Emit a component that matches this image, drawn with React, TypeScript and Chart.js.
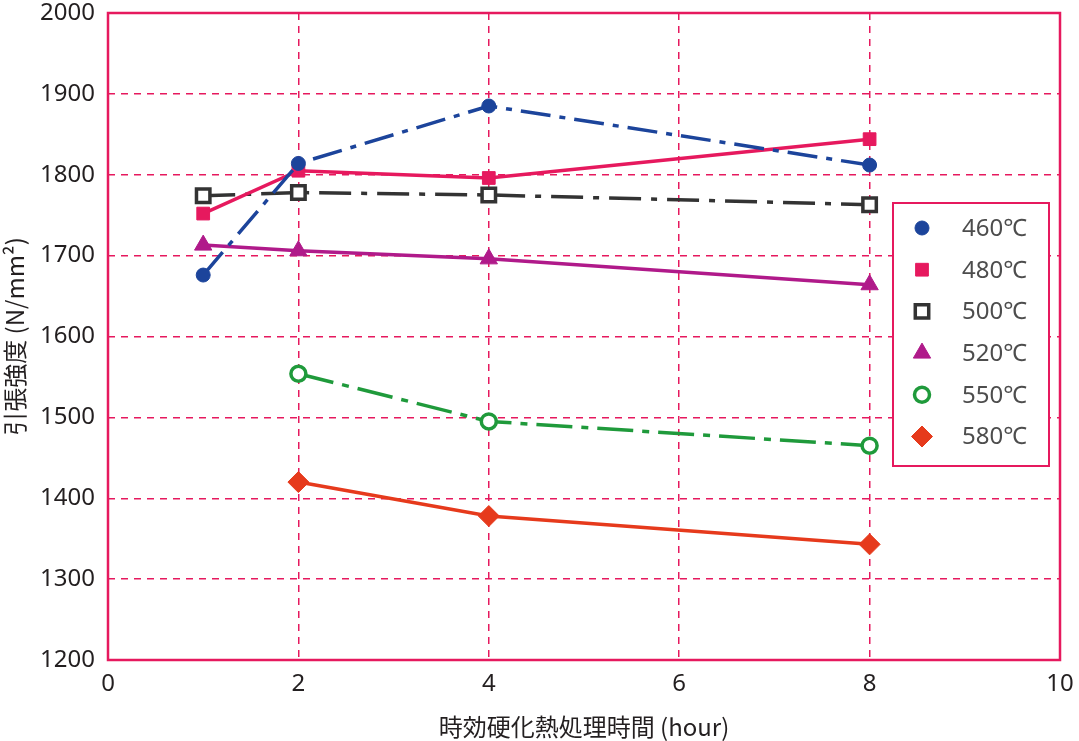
import { useEffect, useRef } from "react";
import { Chart, registerables } from "chart.js";
import { drawPoint } from "chart.js/helpers";

Chart.register(...registerables);

// aging time (hour)
const hoursAll = [1, 2, 4, 8];
const hoursLate = [2, 4, 8];

// tensile strength (N/mm2) per aging temperature
const s460 = [1676, 1814, 1885, 1812];
const s480 = [1752, 1805, 1796, 1844];
const s500 = [1774, 1778, 1775, 1763];
const s520 = [1713, 1706, 1696, 1664];
const s550 = [1554, 1495, 1465];
const s580 = [1420, 1378, 1343];

const seriesLabels = ["460℃", "480℃", "500℃", "520℃", "550℃", "580℃"];

const xTickValues = [0, 2, 4, 6, 8, 10];
const yTickValues = [1200, 1300, 1400, 1500, 1600, 1700, 1800, 1900, 2000];

const PINK = "#e6195e";
const TEXT = "#231f20";
const NUM_FONT = '"Noto Sans", sans-serif';
const CJK_FONT = '"Noto Sans CJK JP", "Noto Sans", sans-serif';

const pts = (xs: number[], ys: number[]) => xs.map((x, i) => ({ x, y: ys[i] }));

const frameAndLegend = {
    id: "frameAndLegend",
    afterDatasetsDraw(chart: any) {
        const { ctx, chartArea: a } = chart;
        ctx.save();
        ctx.strokeStyle = PINK;
        ctx.lineWidth = 2.5;
        ctx.strokeRect(a.left, a.top, a.right - a.left, a.bottom - a.top);

        // legend box inside the plot
        const bx = 893, by = 203, bw = 156, bh = 263;
        ctx.fillStyle = "#ffffff";
        ctx.fillRect(bx, by, bw, bh);
        ctx.lineWidth = 2;
        ctx.strokeRect(bx, by, bw, bh);

        chart.data.datasets.forEach((ds: any, i: number) => {
            const y = 228 + i * 41.7;
            ctx.fillStyle = ds.pointBackgroundColor;
            ctx.strokeStyle = ds.pointBorderColor;
            ctx.lineWidth = ds.pointBorderWidth;
            drawPoint(ctx, {
                pointStyle: ds.pointStyle,
                radius: ds.pointRadius,
                rotation: 0,
                borderWidth: ds.pointBorderWidth,
            }, 922, y);
            ctx.fillStyle = "#4d4d4d";
            ctx.font = `24px ${NUM_FONT}`;
            ctx.textBaseline = "middle";
            ctx.textAlign = "left";
            ctx.fillText(ds.label, 962, y + 1);
        });
        ctx.restore();
    },
};

const App = () => {
    const canvasRef = useRef<HTMLCanvasElement>(null);

    useEffect(() => {
        document.body.style.margin = "0";
        if (!canvasRef.current) return;
        const ctx = canvasRef.current.getContext("2d");
        if (!ctx) return;

        const line = (label: string, data: any, color: string, style: string, radius: number, dash: number[], hollow = false) => ({
            label,
            data,
            borderColor: color,
            borderWidth: 3.5,
            borderDash: dash,
            pointStyle: style,
            pointRadius: radius,
            pointHoverRadius: radius,
            pointBackgroundColor: hollow ? "#ffffff" : color,
            pointBorderColor: color,
            pointBorderWidth: hollow ? 3.5 : 1,
            tension: 0,
            fill: false,
        });

        const chart = new Chart(ctx, {
            type: "line",
            data: {
                datasets: [
                    line(seriesLabels[0], pts(hoursAll, s460), "#1c449b", "circle", 7, [30, 9, 6, 9]),
                    line(seriesLabels[1], pts(hoursAll, s480), "#e6195e", "rect", 9, []),
                    line(seriesLabels[2], pts(hoursAll, s500), "#333333", "rect", 9.5, [32, 10, 6, 10], true),
                    line(seriesLabels[3], pts(hoursAll, s520), "#b01a8a", "triangle", 10, []),
                    line(seriesLabels[4], pts(hoursLate, s550), "#1f9a3b", "circle", 7.5, [36, 9, 7, 9], true),
                    line(seriesLabels[5], pts(hoursLate, s580), "#e63a1c", "rectRot", 10.5, []),
                ],
            },
            options: {
                animation: false,
                responsive: false,
                maintainAspectRatio: false,
                events: [],
                layout: { padding: { top: 9, right: 19, bottom: 0, left: 0 } },
                plugins: {
                    legend: { display: false },
                    tooltip: { enabled: false },
                },
                scales: {
                    x: {
                        type: "linear",
                        min: 0,
                        max: 10,
                        afterBuildTicks: (s: any) => { s.ticks = xTickValues.map((v) => ({ value: v })); },
                        afterFit: (s: any) => { s.height = 81; s.paddingLeft = 0; s.paddingRight = 0; },
                        ticks: {
                            color: TEXT,
                            padding: 10,
                            font: { family: NUM_FONT, size: 24 },
                            maxRotation: 0,
                            callback: (v: any) => String(v),
                        },
                        grid: {
                            color: (c: any) => (c.tick && (c.tick.value === 0 || c.tick.value === 10) ? "rgba(0,0,0,0)" : PINK),
                            lineWidth: 1.5,
                            drawTicks: false,
                        },
                        border: { display: false, dash: [7, 6] },
                        title: {
                            display: true,
                            text: "時効硬化熱処理時間 (hour)",
                            color: TEXT,
                            font: { family: CJK_FONT, size: 24 },
                            padding: { top: 0, bottom: 0 },
                        },
                    },
                    y: {
                        type: "linear",
                        min: 1200,
                        max: 2000,
                        afterBuildTicks: (s: any) => { s.ticks = yTickValues.map((v) => ({ value: v })); },
                        afterFit: (s: any) => { s.width = 108; s.paddingTop = 0; s.paddingBottom = 0; },
                        ticks: {
                            color: TEXT,
                            padding: 13,
                            font: { family: NUM_FONT, size: 24 },
                            callback: (v: any) => String(v),
                        },
                        grid: {
                            color: (c: any) => (c.tick && (c.tick.value === 1200 || c.tick.value === 2000) ? "rgba(0,0,0,0)" : PINK),
                            lineWidth: 1.5,
                            drawTicks: false,
                        },
                        border: { display: false, dash: [7, 6] },
                        title: {
                            display: true,
                            text: "引張強度 (N/mm²)",
                            color: TEXT,
                            font: { family: CJK_FONT, size: 24 },
                            padding: { top: 0, bottom: 0 },
                        },
                    },
                },
            },
            plugins: [frameAndLegend],
        });

        return () => {
            chart.destroy();
        };
    }, []);

    return (
        <div style={{ width: 1079, height: 741, background: "#ffffff" }}>
            <canvas ref={canvasRef} width={1079} height={741} style={{ display: "block" }}></canvas>
        </div>
    );
};

export default App;
